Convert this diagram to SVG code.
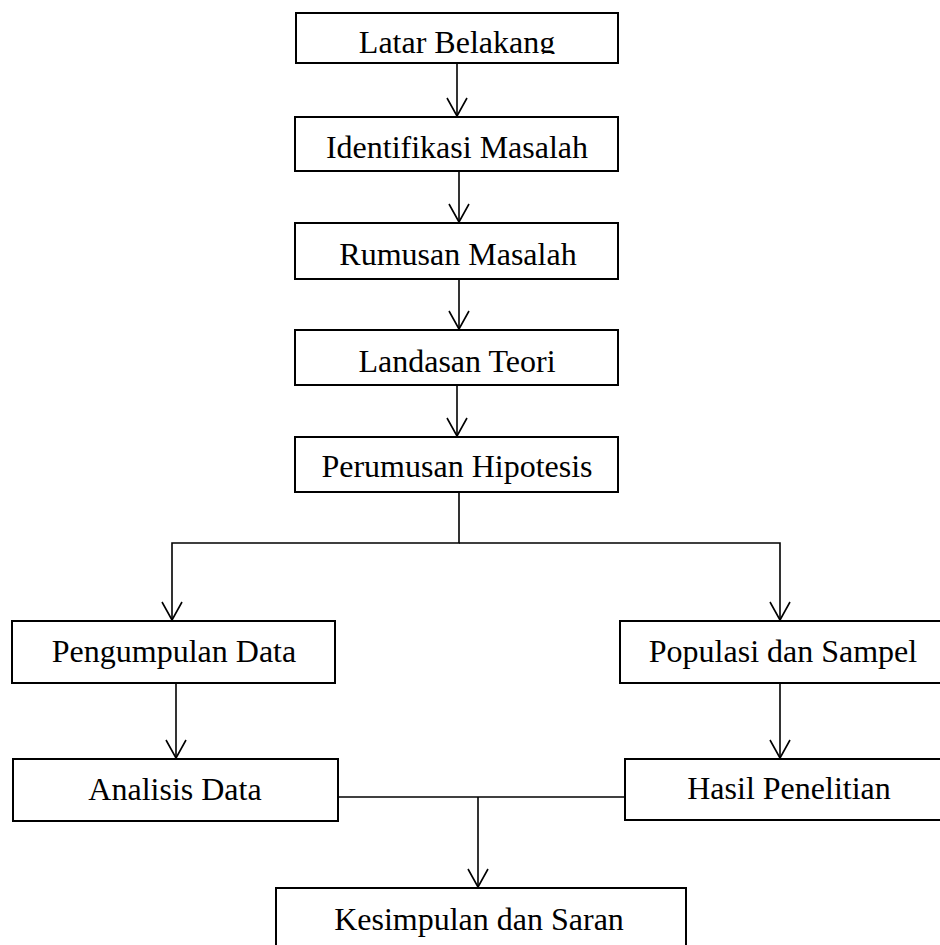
<svg xmlns="http://www.w3.org/2000/svg" width="940" height="945" viewBox="0 0 940 945">
<style>
.box{fill:#fff;stroke:#000;stroke-width:2}
.lbl{font-family:"Liberation Serif","Times New Roman",serif;font-size:32px;fill:#000;text-anchor:middle}
.con{fill:none;stroke:#000;stroke-width:1.6}
</style>
<defs>
<marker id="arr" markerUnits="userSpaceOnUse" orient="auto" refX="0" refY="0" markerWidth="20" markerHeight="20" overflow="visible">
<path d="M-18,-10 L0,0 L-18,10" fill="none" stroke="#000" stroke-width="1.6"/>
</marker>
<clipPath id="clipLB"><rect x="296" y="13" width="322" height="41"/></clipPath>
</defs>
<rect width="940" height="945" fill="#fff"/>
<g id="connectors">
<line class="con" x1="457" y1="63" x2="457" y2="116" marker-end="url(#arr)"/>
<line class="con" x1="459" y1="171" x2="459" y2="222" marker-end="url(#arr)"/>
<line class="con" x1="459" y1="279" x2="459" y2="329" marker-end="url(#arr)"/>
<line class="con" x1="457" y1="385" x2="457" y2="436" marker-end="url(#arr)"/>
<polyline class="con" points="459,492 459,543 172,543 172,620" marker-end="url(#arr)"/>
<polyline class="con" points="459,543 780,543 780,620" marker-end="url(#arr)"/>
<line class="con" x1="176" y1="683" x2="176" y2="758" marker-end="url(#arr)"/>
<line class="con" x1="780" y1="683" x2="780" y2="758" marker-end="url(#arr)"/>
<line class="con" x1="338" y1="797" x2="625" y2="797"/>
<line class="con" x1="478" y1="797" x2="478" y2="887" marker-end="url(#arr)"/>
</g>
<g id="latar-belakang">
<rect class="box" x="296" y="13" width="322" height="50"/>
<text class="lbl" x="457" y="53" clip-path="url(#clipLB)">Latar Belakang</text>
</g>
<g id="identifikasi-masalah">
<rect class="box" x="295" y="117" width="323" height="54"/>
<text class="lbl" x="457" y="158">Identifikasi Masalah</text>
</g>
<g id="rumusan-masalah">
<rect class="box" x="295" y="223" width="323" height="56"/>
<text class="lbl" x="458" y="265">Rumusan Masalah</text>
</g>
<g id="landasan-teori">
<rect class="box" x="295" y="330" width="323" height="55"/>
<text class="lbl" x="457" y="372">Landasan Teori</text>
</g>
<g id="perumusan-hipotesis">
<rect class="box" x="295" y="437" width="323" height="55"/>
<text class="lbl" x="457" y="477">Perumusan Hipotesis</text>
</g>
<g id="pengumpulan-data">
<rect class="box" x="12" y="621" width="323" height="62"/>
<text class="lbl" x="174" y="662">Pengumpulan Data</text>
</g>
<g id="populasi-sampel">
<rect class="box" x="620" y="621" width="330" height="62"/>
<text class="lbl" x="783" y="662">Populasi dan Sampel</text>
</g>
<g id="analisis-data">
<rect class="box" x="13" y="759" width="325" height="62"/>
<text class="lbl" x="175" y="800">Analisis Data</text>
</g>
<g id="hasil-penelitian">
<rect class="box" x="625" y="759" width="325" height="61"/>
<text class="lbl" x="789" y="799">Hasil Penelitian</text>
</g>
<g id="kesimpulan-saran">
<rect class="box" x="276" y="888" width="410" height="70"/>
<text class="lbl" x="479" y="930">Kesimpulan dan Saran</text>
</g>
</svg>
